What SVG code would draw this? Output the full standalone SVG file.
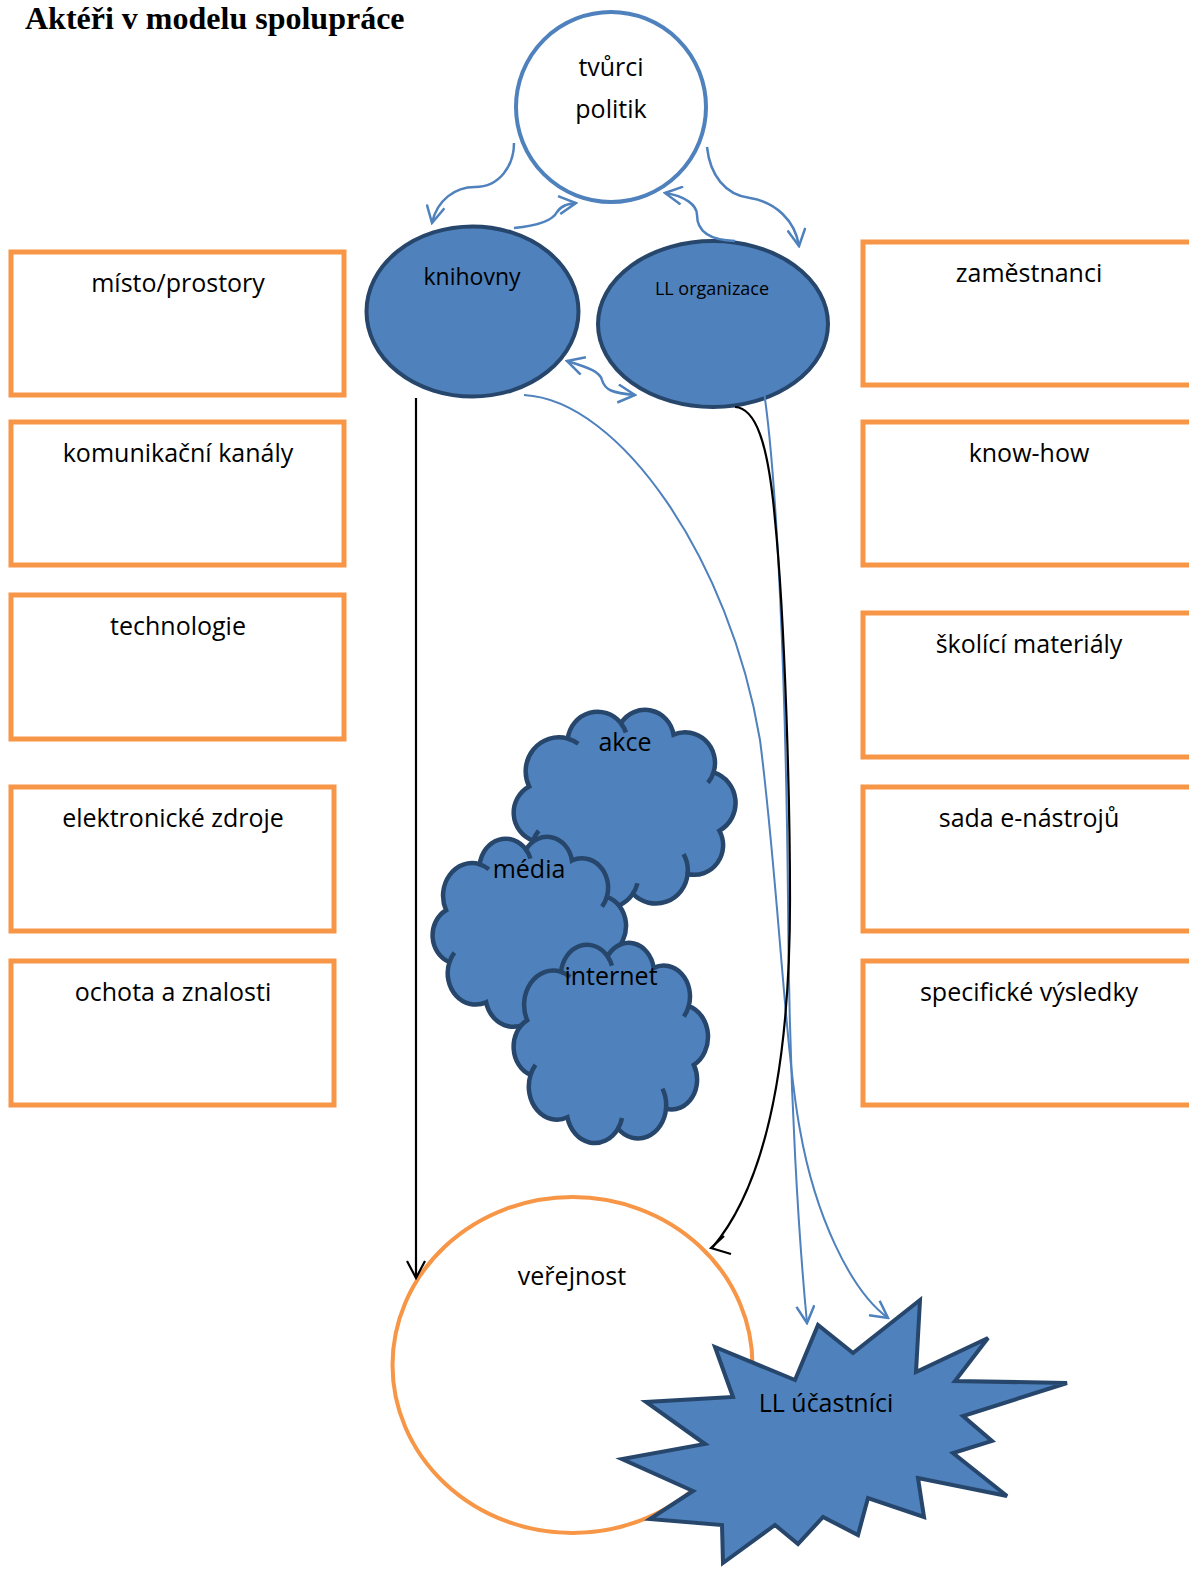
<svg xmlns="http://www.w3.org/2000/svg" width="1189" height="1569" viewBox="0 0 1189 1569">
<style>
.box{fill:#fff;stroke:#f79646;stroke-width:5}
.lbl{font-family:"Open Sans","Liberation Sans",sans-serif;font-size:25px;fill:#000;text-anchor:middle}
.shape{fill:#4f81bd;stroke:#27466c;stroke-width:4}
.cloud{fill:#4f81bd;stroke:#27466c;stroke-width:4.5;vector-effect:non-scaling-stroke}
.cloudIn{fill:none;stroke:#27466c;stroke-width:4.5;vector-effect:non-scaling-stroke}
.cb{fill:none;stroke:#4f81bd;stroke-width:2.5}
.ck{fill:none;stroke:#000;stroke-width:2.2}
.title{font-family:"Liberation Serif","Times New Roman",serif;font-weight:bold;font-size:32px;fill:#000}
</style>
<defs>
<marker id="ab" viewBox="0 0 20 20" refX="18" refY="10" markerWidth="20" markerHeight="20" markerUnits="userSpaceOnUse" orient="auto-start-reverse">
<path d="M1,1 L18,10 L1,19" fill="none" stroke="#4f81bd" stroke-width="2.5"/>
</marker>
<marker id="ak" viewBox="0 0 20 20" refX="18" refY="10" markerWidth="20" markerHeight="20" markerUnits="userSpaceOnUse" orient="auto">
<path d="M1,1 L18,10 L1,19" fill="none" stroke="#000" stroke-width="2.2"/>
</marker>
<g id="cloudG">
<path class="cloud" d="M21.1,76.8 A31,31 0 0 1 57.2,33.1 A28,28 0 0 1 106.8,19.1 A27,27 0 0 1 156,29.5 A28,28 0 0 1 193.4,64 A29,29 0 0 1 198.9,117.2 A27,27 0 0 1 169.2,156.7 A30,30 0 0 1 118,174.7 A30,30 0 0 1 64,164.5 A30,30 0 0 1 24.7,126.2 A27,27 0 0 1 21.1,76.8 Z"/>
<path class="cloudIn" d="M57.2,33.1 A31,31 0 0 1 67,37.8 M106.8,19.1 A28,28 0 0 1 111.5,27.6 M193.4,64 A28,28 0 0 1 188.2,73.4 M165.4,138.6 A30,30 0 0 1 169.2,156.7 M122.3,165.1 A30,30 0 0 1 118,174.7 M24.7,126.2 A30,30 0 0 1 30,117.2"/>
</g>
</defs>
<rect width="1189" height="1569" fill="#fff"/>
<text class="title" x="25" y="29">Aktéři v modelu spolupráce</text>

<g id="node-tvurci">
<circle cx="611" cy="107" r="95" fill="#fff" stroke="#4f81bd" stroke-width="4"/>
<text class="lbl" x="611" y="76">tvůrci</text>
<text class="lbl" x="611" y="118">politik</text>
</g>
<g id="node-knihovny">
<ellipse class="shape" cx="472.5" cy="311.5" rx="106" ry="85"/>
<text class="lbl" x="472" y="285" style="font-size:23px">knihovny</text>
</g>
<g id="node-llorg">
<ellipse class="shape" cx="713" cy="324" rx="115" ry="83"/>
<text class="lbl" x="712" y="295" style="font-size:18px">LL organizace</text>
</g>

<g id="node-misto"><rect class="box" x="11" y="252" width="333" height="143"/><text class="lbl" x="178" y="292">místo/prostory</text></g>
<g id="node-komunikacni"><rect class="box" x="11" y="422" width="333" height="143"/><text class="lbl" x="178" y="462">komunikační kanály</text></g>
<g id="node-technologie"><rect class="box" x="11" y="595" width="333" height="144"/><text class="lbl" x="178" y="635">technologie</text></g>
<g id="node-elektronicke"><rect class="box" x="11" y="787" width="323" height="144"/><text class="lbl" x="173" y="827">elektronické zdroje</text></g>
<g id="node-ochota"><rect class="box" x="11" y="961" width="323" height="144"/><text class="lbl" x="173" y="1001">ochota a znalosti</text></g>

<g id="node-zamestnanci"><rect class="box" x="863" y="242" width="340" height="143"/><text class="lbl" x="1029" y="282">zaměstnanci</text></g>
<g id="node-knowhow"><rect class="box" x="863" y="422" width="340" height="143"/><text class="lbl" x="1029" y="462">know-how</text></g>
<g id="node-skolici"><rect class="box" x="863" y="613" width="340" height="144"/><text class="lbl" x="1029" y="653">školící materiály</text></g>
<g id="node-sada"><rect class="box" x="863" y="787" width="340" height="144"/><text class="lbl" x="1029" y="827">sada e-nástrojů</text></g>
<g id="node-specificke"><rect class="box" x="863" y="961" width="340" height="144"/><text class="lbl" x="1029" y="1001">specifické výsledky</text></g>

<g id="node-akce">
<use href="#cloudG" transform="translate(506.6,702.3) scale(1.07,1.096)"/>
<text class="lbl" x="625" y="751">akce</text>
</g>
<g id="node-media">
<use href="#cloudG" transform="translate(426.4,829.6) scale(0.933,1.05)"/>
<text class="lbl" x="529" y="878">média</text>
</g>
<g id="node-internet">
<use href="#cloudG" transform="translate(507.4,935.2) scale(0.9375,1.107)"/>
<text class="lbl" x="611" y="985">internet</text>
</g>

<g id="node-verejnost">
<ellipse cx="572.5" cy="1365" rx="180" ry="168" fill="#fff" stroke="#f79646" stroke-width="4"/>
<text class="lbl" x="572" y="1285">veřejnost</text>
</g>
<g id="node-ucastnici">
<polygon class="shape" points="920,1300 916,1372 988,1338 955,1381 1067,1383 963,1416 992,1441 953,1453 1007,1496 918,1478 924,1517 868,1498 858,1535 823,1517 798,1544 775,1525 723,1563 722,1525 650,1519 693,1491 622,1459 705,1444 646,1402 733,1397 715,1347 795,1380 818,1325 853,1353"/>
<text class="lbl" x="826" y="1412">LL účastníci</text>
</g>

<g id="connectors">
<path class="cb" marker-end="url(#ab)" d="M514,143 C514,165 500,187 475,187 C455,187 437,200 432,223"/>
<path class="cb" marker-end="url(#ab)" d="M514,228 C535,226 552,222 557,212 C562,205 568,204 576,203"/>
<path class="cb" marker-end="url(#ab)" d="M735,241 C705,240 697,228 697,215 C697,205 685,196 665,193"/>
<path class="cb" marker-end="url(#ab)" d="M707,147 C710,175 725,195 750,198 C775,202 795,220 799,246"/>
<path class="cb" marker-start="url(#ab)" marker-end="url(#ab)" d="M567,361 C590,368 600,372 602,380 C605,390 612,393 635,395"/>
<path class="cb" style="stroke-width:2" marker-end="url(#ab)" d="M524,395 C620,400 730,560 760,740 C778,880 785,1050 800,1130 C815,1215 850,1290 888,1318"/>
<path class="cb" style="stroke-width:2" marker-end="url(#ab)" d="M763,385 C778,480 786,700 788,900 C789,1100 800,1250 807,1323"/>
<path class="ck" d="M735,407 C755,408 768,440 775,520 C785,620 790,800 790,900 C790,1050 770,1180 712,1248"/>
<path class="ck" d="M724,1236 L711,1248 L731,1254"/>
<path class="ck" marker-end="url(#ak)" d="M416,398 L416,1278"/>
</g>
</svg>
